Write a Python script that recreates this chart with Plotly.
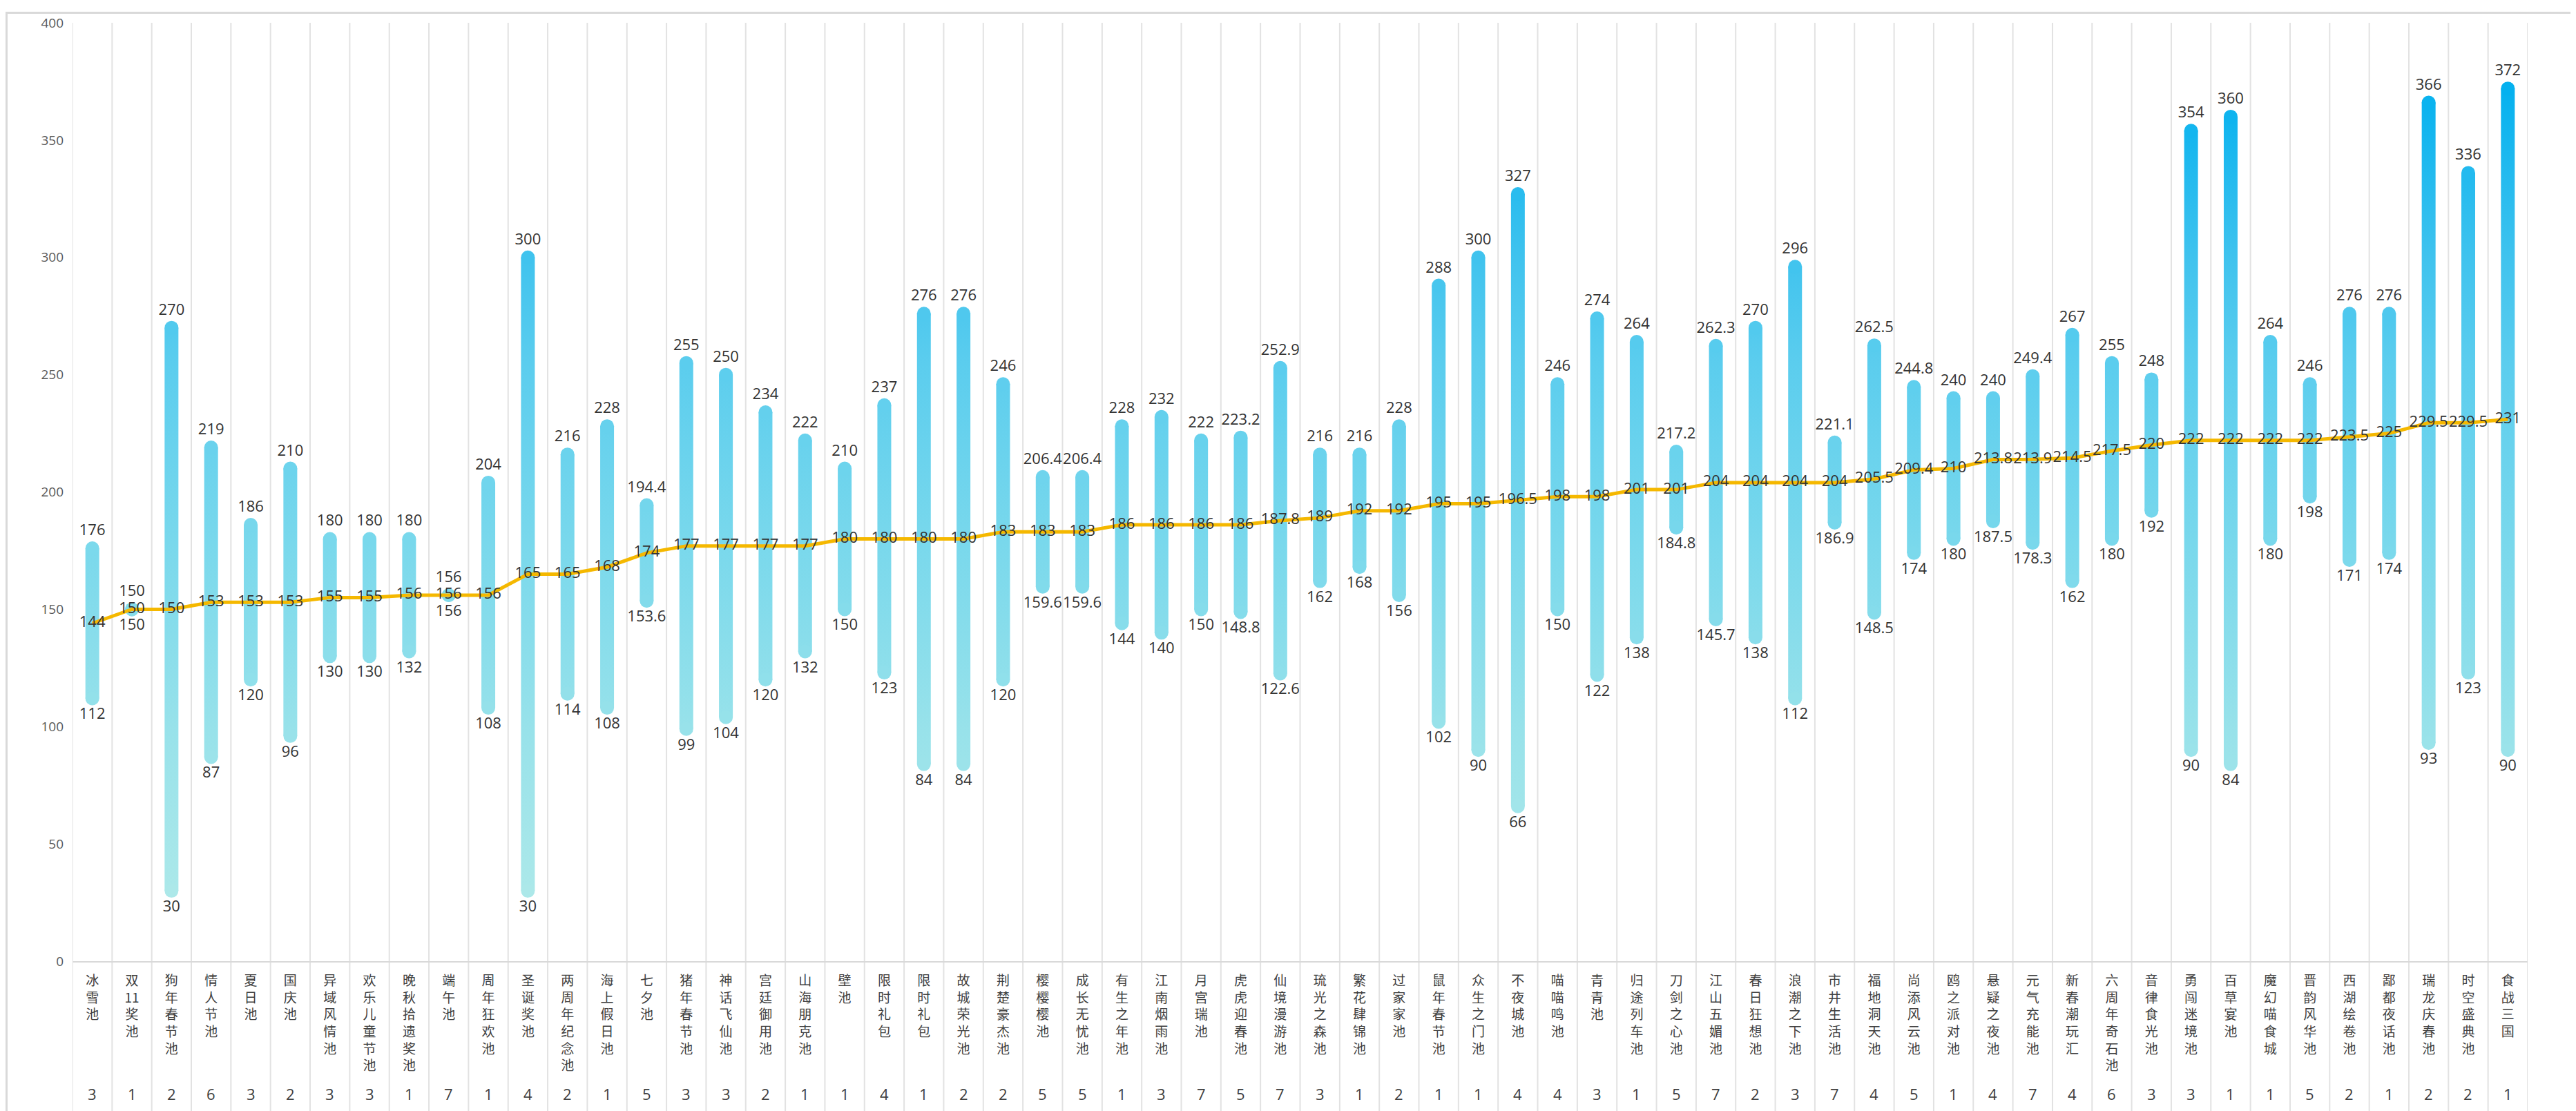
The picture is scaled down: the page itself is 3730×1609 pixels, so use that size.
import plotly.graph_objects as go

categories = ["冰雪池", "双11奖池", "狗年春节池", "情人节池", "夏日池", "国庆池", "异域风情池", "欢乐儿童节池",
              "晚秋拾遗奖池", "端午池", "周年狂欢池", "圣诞奖池", "两周年纪念池", "海上假日池", "七夕池", "猪年春节池",
              "神话飞仙池", "宫廷御用池", "山海朋克池", "壁池", "限时礼包", "限时礼包", "故城荣光池", "荆楚豪杰池",
              "樱樱樱池", "成长无忧池", "有生之年池", "江南烟雨池", "月宫瑞池", "虎虎迎春池", "仙境漫游池", "琉光之森池",
              "繁花肆锦池", "过家家池", "鼠年春节池", "众生之门池", "不夜城池", "喵喵鸣池", "青青池", "归途列车池",
              "刀剑之心池", "江山五媚池", "春日狂想池", "浪潮之下池", "市井生活池", "福地洞天池", "尚添风云池", "鸥之派对池",
              "悬疑之夜池", "元气充能池", "新春潮玩汇", "六周年奇石池", "音律食光池", "勇闯迷境池", "百草宴池", "魔幻喵食城",
              "晋韵风华池", "西湖绘卷池", "鄙都夜话池", "瑞龙庆春池", "时空盛典池", "食战三国"]

max_vals = [176, 150, 270, 219, 186, 210, 180, 180, 180, 156, 204, 300, 216, 228, 194.4, 255,
            250, 234, 222, 210, 237, 276, 276, 246, 206.4, 206.4, 228, 232, 222, 223.2, 252.9, 216,
            216, 228, 288, 300, 327, 246, 274, 264, 217.2, 262.3, 270, 296, 221.1, 262.5, 244.8, 240,
            240, 249.4, 267, 255, 248, 354, 360, 264, 246, 276, 276, 366, 336, 372]

avg_vals = [144, 150, 150, 153, 153, 153, 155, 155, 156, 156, 156, 165, 165, 168, 174, 177,
            177, 177, 177, 180, 180, 180, 180, 183, 183, 183, 186, 186, 186, 186, 187.8, 189,
            192, 192, 195, 195, 196.5, 198, 198, 201, 201, 204, 204, 204, 204, 205.5, 209.4, 210,
            213.8, 213.9, 214.5, 217.5, 220, 222, 222, 222, 222, 223.5, 225, 229.5, 229.5, 231]

min_vals = [112, 150, 30, 87, 120, 96, 130, 130, 132, 156, 108, 30, 114, 108, 153.6, 99,
            104, 120, 132, 150, 123, 84, 84, 120, 159.6, 159.6, 144, 140, 150, 148.8, 122.6, 162,
            168, 156, 102, 90, 66, 150, 122, 138, 184.8, 145.7, 138, 112, 186.9, 148.5, 174, 180,
            187.5, 178.3, 162, 180, 192, 90, 84, 180, 198, 171, 174, 93, 123, 90]

counts = [3, 1, 2, 6, 3, 2, 3, 3, 1, 7, 1, 4, 2, 1, 5, 3, 3, 2, 1, 1, 4, 1, 2, 2, 5, 5, 1, 3, 7, 5, 7,
          3, 1, 2, 1, 1, 4, 4, 3, 1, 5, 7, 2, 3, 7, 4, 5, 1, 4, 7, 4, 6, 3, 3, 1, 1, 5, 2, 1, 2, 2, 1]

y_ticks = [0, 50, 100, 150, 200, 250, 300, 350, 400]

# ---- layout constants ----
W, H = 3730, 1609
ML, MR, MT, MB = 97, 78, 16, 225
PW, PH = W - ML - MR, H - MT - MB
N = len(categories)
BAR_PX = 20
hw = (BAR_PX / 2) / (PW / N)
YMAX = 400

cs = [[0.0, "#b4ebe9"], [0.25, "#98e2ea"], [0.45, "#79d8ec"], [0.64, "#5bcdee"],
      [0.75, "#40c3ee"], [0.93, "#05b1ef"], [1.0, "#00adef"]]

idx = list(range(N))
fmt = lambda v: f"{v:g}"

# bar bodies as filled polygons with a vertical gradient in axis coordinates
px, py = [], []
for i, lo, hi in zip(idx, min_vals, max_vals):
    px += [i - hw, i + hw, i + hw, i - hw, i - hw, None]
    py += [lo, lo, hi, hi, lo, None]

fig = go.Figure()
fig.add_trace(go.Scatter(
    x=px, y=py, mode="lines", fill="toself", line=dict(width=0),
    fillgradient=dict(type="vertical", colorscale=cs, start=0, stop=YMAX),
    hoverinfo="skip", showlegend=False))

num_font = dict(family="Open Sans, Noto Sans CJK SC", size=22, color="#333333")

# rounded caps + max labels
fig.add_trace(go.Scatter(
    x=idx, y=max_vals, mode="markers+text",
    marker=dict(size=BAR_PX, color=max_vals, colorscale=cs, cmin=0, cmax=YMAX, line=dict(width=0)),
    text=[fmt(v) for v in max_vals], textposition="top center", textfont=num_font,
    showlegend=False))
# rounded caps + min labels
fig.add_trace(go.Scatter(
    x=idx, y=min_vals, mode="markers+text",
    marker=dict(size=BAR_PX, color=min_vals, colorscale=cs, cmin=0, cmax=YMAX, line=dict(width=0)),
    text=[fmt(v) for v in min_vals], textposition="bottom center", textfont=num_font,
    showlegend=False))
# average line
fig.add_trace(go.Scatter(
    x=idx, y=avg_vals, mode="lines+text",
    line=dict(color="#f5b800", width=5),
    text=[fmt(v) for v in avg_vals], textposition="middle center", textfont=num_font,
    showlegend=False))

# vertical separators extending through label area
shapes = []
for k in range(N + 1):
    shapes.append(dict(type="line", xref="x", yref="paper", x0=k - 0.5, x1=k - 0.5,
                       y0=-(MB - 4) / PH, y1=1, line=dict(color="#e2e2e2", width=2), layer="below"))
# outer border
shapes.append(dict(type="rect", xref="paper", yref="paper",
                   x0=-(ML - 1.5) / PW, x1=1 + (MR - 1.5) / PW,
                   y0=-(MB - 1.5) / PH, y1=1 + (MT - 1.5) / PH,
                   line=dict(color="#d9d9d9", width=3), layer="below"))

annotations = []
for i, c in zip(idx, counts):
    annotations.append(dict(x=i, xref="x", y=-(1577 - (H - MB)) / PH, yref="paper",
                            text=str(c), showarrow=False, yanchor="middle",
                            font=dict(family="Open Sans, Noto Sans CJK SC", size=22, color="#404040")))

def vert(s):
    parts, buf = [], ""
    for ch in s:
        if ch.isdigit():
            buf += ch
        else:
            if buf:
                parts.append(buf)
                buf = ""
            parts.append(ch)
    if buf:
        parts.append(buf)
    return "<br>".join(parts)

fig.update_layout(
    width=W, height=H,
    margin=dict(l=ML, r=MR, t=MT, b=MB, pad=0),
    paper_bgcolor="white", plot_bgcolor="white",
    shapes=shapes, annotations=annotations,
    xaxis=dict(range=[-0.5, N - 0.5], tickmode="array", tickvals=idx,
               ticktext=[vert(c) for c in categories], showgrid=False, zeroline=False,
               showline=True, linecolor="#d9d9d9", linewidth=2, ticks="",
               ticklabelstandoff=10,
               tickfont=dict(family="Noto Sans CJK SC", size=19, color="#404040")),
    yaxis=dict(range=[0, YMAX], tickvals=y_ticks, showgrid=False, zeroline=False,
               showline=False, ticks="", ticklabelstandoff=12,
               tickfont=dict(family="Open Sans, Noto Sans CJK SC", size=19, color="#595959")),
    font=dict(family="Noto Sans CJK SC"),
)

fig.write_html("out.html")
